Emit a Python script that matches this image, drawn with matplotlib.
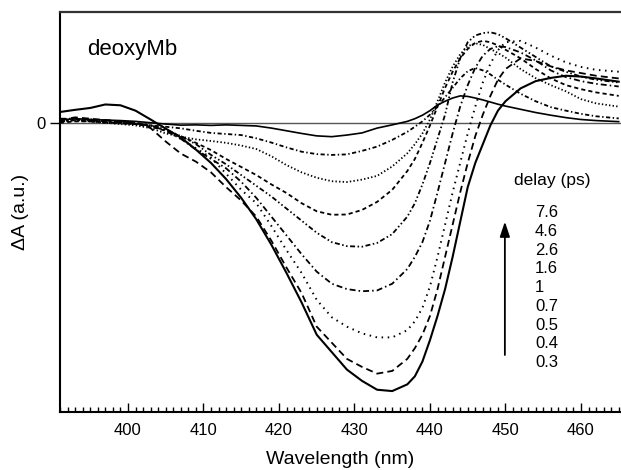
import matplotlib
matplotlib.use("Agg")
import matplotlib.pyplot as plt

plt.rcParams["font.family"] = ["Liberation Sans", "DejaVu Sans"]
plt.rcParams["lines.scale_dashes"] = False

# wavelength grid (nm)
wl = [391, 393, 395, 397, 399, 401, 403, 405, 407, 409, 411, 413, 415, 417,
      419, 421, 423, 425, 427, 429, 431, 433, 435, 437, 438, 439, 440, 441,
      442, 443, 444, 445, 446, 447, 448, 449, 450, 452, 454, 456, 458, 460,
      462, 465]

# delta A (a.u.) for each delay
dA_0p3 = [0.040, 0.048, 0.055, 0.068, 0.065, 0.045, 0.012, -0.022, -0.055, -0.100,
          -0.150, -0.210, -0.280, -0.360, -0.455, -0.560, -0.670, -0.790, -0.855,
          -0.920, -0.962, -0.995, -1.000, -0.975, -0.945, -0.890, -0.810, -0.720,
          -0.620, -0.500, -0.370, -0.240, -0.150, -0.080, -0.010, 0.045, 0.080,
          0.128, 0.155, 0.167, 0.175, 0.172, 0.165, 0.153]
dA_0p4 = [0.010, 0.020, 0.015, 0.010, 0.005, 0.000, -0.020, -0.070, -0.115, -0.145,
          -0.185, -0.240, -0.290, -0.350, -0.440, -0.540, -0.635, -0.760, -0.820,
          -0.880, -0.910, -0.935, -0.925, -0.880, -0.840, -0.790, -0.720, -0.620,
          -0.500, -0.380, -0.260, -0.150, -0.050, 0.030, 0.100, 0.160, 0.200,
          0.240, 0.230, 0.210, 0.195, 0.185, 0.175, 0.165]
dA_0p5 = [0.005, 0.010, 0.012, 0.008, 0.005, 0.000, -0.010, -0.030, -0.060, -0.095,
          -0.130, -0.190, -0.250, -0.300, -0.385, -0.475, -0.560, -0.660, -0.725,
          -0.760, -0.785, -0.800, -0.800, -0.773, -0.740, -0.690, -0.610, -0.500,
          -0.380, -0.260, -0.150, -0.040, 0.060, 0.150, 0.220, 0.270, 0.300,
          0.305, 0.280, 0.250, 0.225, 0.208, 0.197, 0.190]
dA_0p7 = [0.015, 0.015, 0.010, 0.005, 0.000, -0.005, -0.010, -0.030, -0.060, -0.100,
          -0.135, -0.170, -0.220, -0.280, -0.350, -0.420, -0.490, -0.555, -0.600,
          -0.620, -0.628, -0.625, -0.600, -0.545, -0.500, -0.445, -0.365, -0.260,
          -0.150, -0.040, 0.060, 0.140, 0.205, 0.250, 0.275, 0.285, 0.282,
          0.262, 0.232, 0.195, 0.170, 0.155, 0.145, 0.135]
dA_1 = [0.010, 0.012, 0.010, 0.008, 0.004, 0.000, -0.010, -0.025, -0.050, -0.080,
        -0.120, -0.155, -0.195, -0.235, -0.275, -0.320, -0.365, -0.410, -0.445,
        -0.460, -0.462, -0.448, -0.415, -0.350, -0.300, -0.230, -0.150, -0.060,
        0.030, 0.150, 0.240, 0.300, 0.325, 0.334, 0.337, 0.330, 0.315,
        0.280, 0.245, 0.210, 0.190, 0.172, 0.160, 0.150]
dA_1p6 = [0.000, 0.005, 0.005, 0.002, 0.000, -0.005, -0.015, -0.030, -0.050, -0.075,
          -0.102, -0.135, -0.165, -0.195, -0.230, -0.262, -0.300, -0.330, -0.343,
          -0.342, -0.325, -0.295, -0.250, -0.180, -0.135, -0.075, -0.010, 0.060,
          0.130, 0.190, 0.240, 0.275, 0.298, 0.305, 0.300, 0.288, 0.272,
          0.240, 0.200, 0.165, 0.140, 0.125, 0.113, 0.100]
dA_2p6 = [0.005, 0.008, 0.005, 0.000, -0.005, -0.010, -0.020, -0.040, -0.052, -0.062,
          -0.068, -0.075, -0.085, -0.098, -0.125, -0.158, -0.185, -0.205, -0.218,
          -0.221, -0.212, -0.198, -0.163, -0.114, -0.080, -0.040, 0.012, 0.080,
          0.150, 0.209, 0.255, 0.285, 0.296, 0.290, 0.275, 0.260, 0.243,
          0.200, 0.166, 0.140, 0.117, 0.088, 0.072, 0.060]
dA_4p6 = [0.005, 0.010, 0.005, 0.000, -0.003, -0.005, -0.010, -0.015, -0.021, -0.030,
          -0.038, -0.042, -0.046, -0.058, -0.074, -0.092, -0.108, -0.117, -0.120,
          -0.118, -0.105, -0.089, -0.064, -0.034, -0.015, 0.005, 0.030, 0.060,
          0.095, 0.130, 0.165, 0.192, 0.204, 0.195, 0.180, 0.160, 0.142,
          0.108, 0.080, 0.058, 0.045, 0.033, 0.024, 0.016]
dA_7p6 = [0.010, 0.015, 0.012, 0.010, 0.008, 0.005, 0.000, -0.005, -0.009, -0.008,
          -0.010, -0.008, -0.010, -0.012, -0.020, -0.030, -0.040, -0.049, -0.052,
          -0.046, -0.038, -0.020, -0.008, 0.005, 0.015, 0.028, 0.045, 0.066,
          0.080, 0.092, 0.100, 0.098, 0.092, 0.085, 0.077, 0.069, 0.062,
          0.050, 0.038, 0.028, 0.019, 0.012, 0.008, 0.004]

delays = ["7.6", "4.6", "2.6", "1.6", "1", "0.7", "0.5", "0.4", "0.3"]

fig = plt.figure(figsize=(6.21, 4.70), dpi=100)
ax = fig.add_axes([60 / 621, 58 / 470, 561 / 621, 400 / 470])

ax.axhline(0, color="#555555", lw=1.0, zorder=1)

ax.plot(wl, dA_0p3, color="black", lw=1.5, ls="-")
ax.plot(wl, dA_0p4, color="black", lw=1.3, ls=(0, (5, 3)))
ax.plot(wl, dA_0p5, color="black", lw=1.4, ls=(0, (1.1, 3.3)))
ax.plot(wl, dA_0p7, color="black", lw=1.3, ls=(0, (4.3, 2.2, 1.1, 2.2)))
ax.plot(wl, dA_1, color="black", lw=1.3, ls=(0, (3.6, 1.8, 1.1, 1.8, 1.1, 1.8)))
ax.plot(wl, dA_1p6, color="black", lw=1.3, ls=(0, (3, 2.2)))
ax.plot(wl, dA_2p6, color="black", lw=1.3, ls=(0, (1, 1.6)))
ax.plot(wl, dA_4p6, color="black", lw=1.3, ls=(0, (3, 1.8, 1, 1.8)))
ax.plot(wl, dA_7p6, color="black", lw=1.2, ls="-")

ax.set_xlim(391, 465.3)
ax.set_ylim(-1.078, 0.4126)

ax.set_xticks(range(400, 461, 10))
ax.set_xticks(range(391, 466), minor=True)
ax.tick_params(axis="x", which="major", direction="in", length=6.5, width=1,
               labelsize=12, pad=8)
ax.tick_params(axis="x", which="minor", direction="in", length=3.6, width=1)
ax.set_yticks([0])
ax.tick_params(axis="y", direction="out", length=7, width=1, labelsize=12, pad=3)

ax.spines["right"].set_visible(False)
ax.spines["top"].set_color("#333333")
ax.spines["top"].set_linewidth(1.6)
ax.spines["left"].set_linewidth(1.5)
ax.spines["bottom"].set_linewidth(1.5)

ax.set_xlabel("Wavelength (nm)", fontsize=14, labelpad=9)
ax.set_ylabel("\u0394A (a.u.)", fontsize=14)
ax.yaxis.set_label_coords(-0.055, 0.5)

ax.text(0.048, 0.9075, "deoxyMb", transform=ax.transAxes, fontsize=16,
        ha="left", va="center")
ax.text(0.877, 0.58, "delay (ps)", transform=ax.transAxes, fontsize=12.5,
        ha="center", va="center")
for i, d in enumerate(delays):
    y = (412 - (212.7 + i * 18.75)) / 400
    ax.text(0.8467, y, d, transform=ax.transAxes, fontsize=12,
            ha="left", va="center")

ax.annotate("", xy=(0.793, 0.476), xytext=(0.793, 0.1425),
            xycoords="axes fraction", textcoords="axes fraction",
            arrowprops=dict(arrowstyle="-|>,head_length=0.9,head_width=0.3",
                            color="black", lw=1.3, shrinkA=0, shrinkB=0))

fig.savefig("out.png", dpi=100)
